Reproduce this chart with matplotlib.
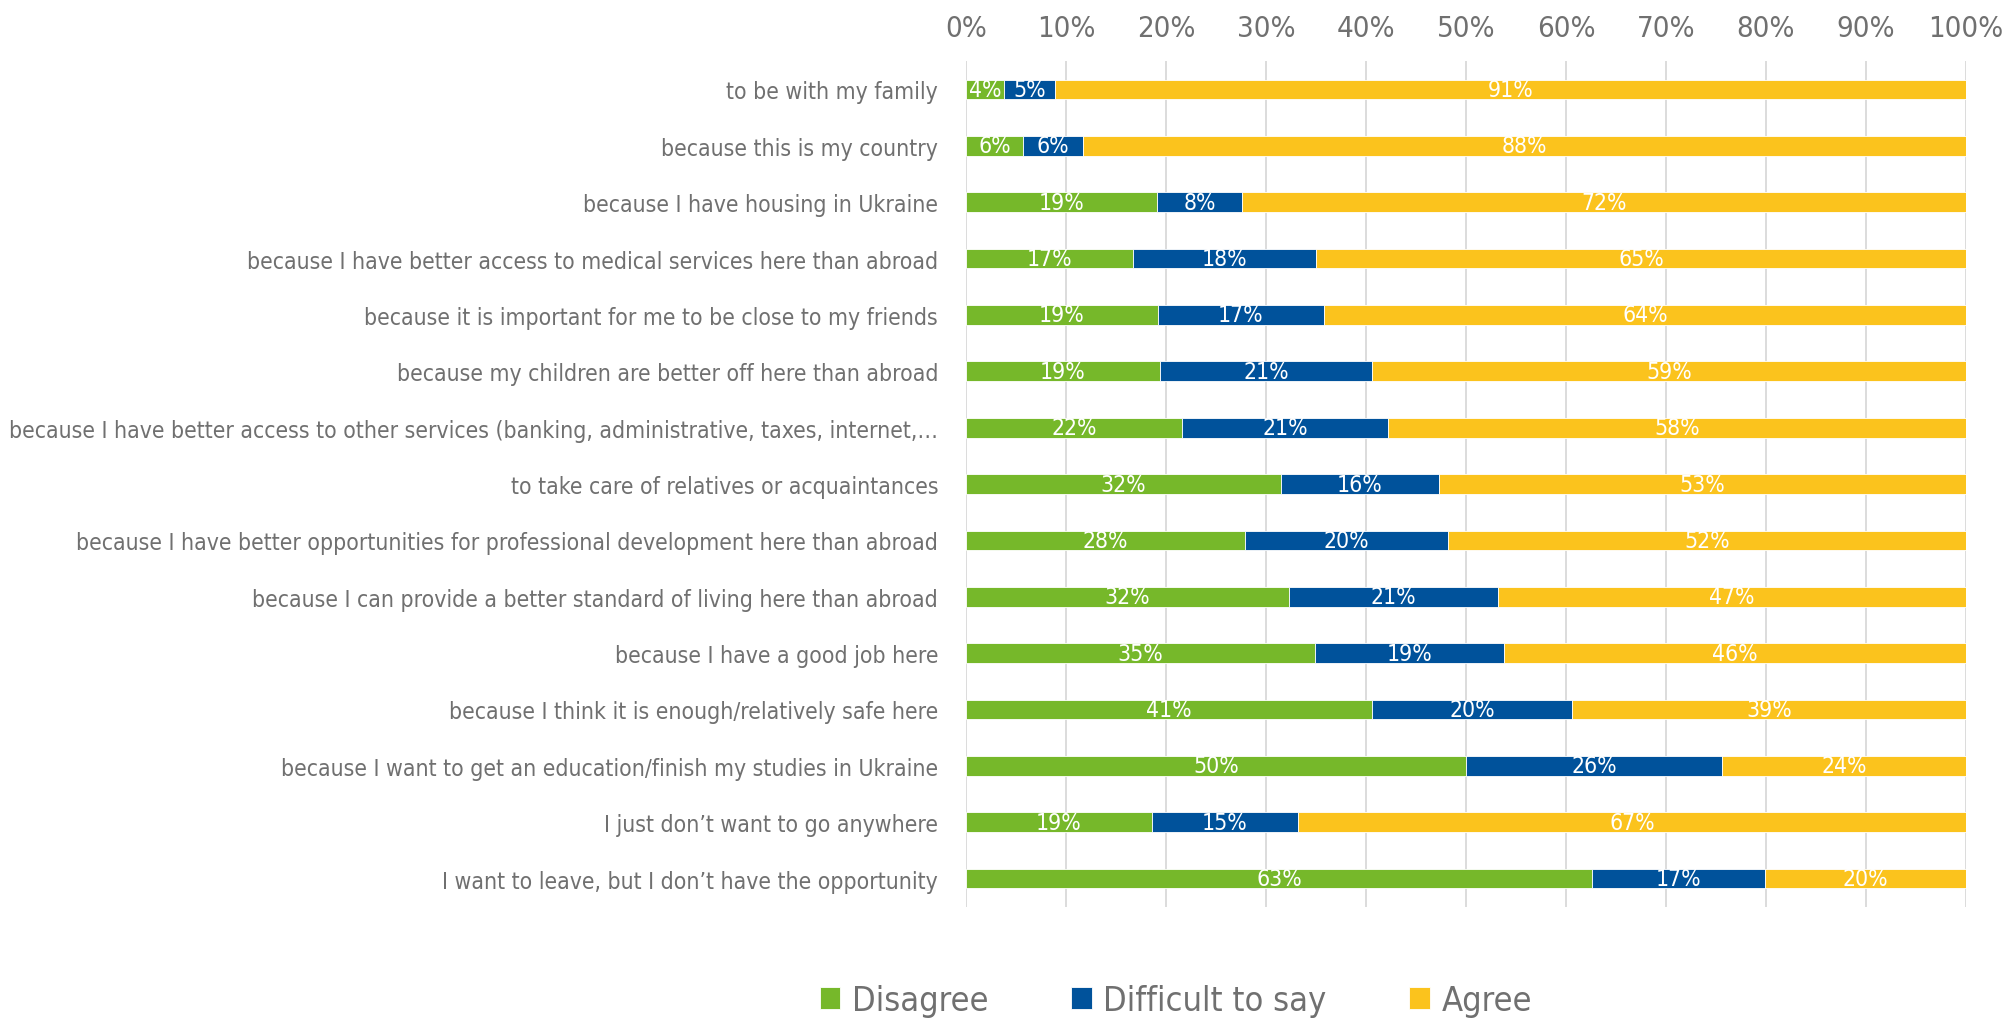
import matplotlib
matplotlib.use("Agg")
import matplotlib.pyplot as plt
from matplotlib import font_manager as fm
import numpy as np

categories = [
    "to be with my family",
    "because this is my country",
    "because I have housing in Ukraine",
    "because I have better access to medical services here than abroad",
    "because it is important for me to be close to my friends",
    "because my children are better off here than abroad",
    "because I have better access to other services (banking, administrative, taxes, internet,\u2026",
    "to take care of relatives or acquaintances",
    "because I have better opportunities for professional development here than abroad",
    "because I can provide a better standard of living here than abroad",
    "because I have a good job here",
    "because I think it is enough/relatively safe here",
    "because I want to get an education/finish my studies in Ukraine",
    "I just don\u2019t want to go anywhere",
    "I want to leave, but I don\u2019t have the opportunity",
]

disagree = [3.8, 5.7, 19.1, 16.7, 19.2, 19.4, 21.6, 31.5, 27.9, 32.3, 34.9, 40.6, 50.0, 18.6, 62.6]
difficult = [5.1, 6.0, 8.5, 18.3, 16.6, 21.2, 20.6, 15.8, 20.3, 20.9, 18.9, 20.0, 25.6, 14.6, 17.3]
agree = [91.1, 88.3, 72.4, 65.0, 64.2, 59.4, 57.8, 52.7, 51.8, 46.8, 46.2, 39.4, 24.4, 66.8, 20.1]

series = [("Disagree", disagree, "#76B82A"),
          ("Difficult to say", difficult, "#00529B"),
          ("Agree", agree, "#FBC31D")]

gray = "#707070"

# narrow font if there is one, else condensed DejaVu, else plain
ttf = fm.fontManager.ttflist
names = {f.name for f in ttf}
narrow = [f for f in ttf if f.name == "DejaVu Sans"
          and f.fname.endswith("DejaVuSansCondensed.ttf")]
if not narrow:
    narrow = [f for f in ttf if f.name == "DejaVu Sans" and "ondensed" in f.fname
              and f.weight in (400, "normal") and f.style == "normal"]
if "Liberation Sans Narrow" in names:
    fp_kw = dict(family="Liberation Sans Narrow")
elif narrow:
    fp_kw = dict(fname=narrow[0].fname)
else:
    fp_kw = dict(family="DejaVu Sans")


def fprop(size):
    return fm.FontProperties(size=size, **fp_kw)


fig = plt.figure(figsize=(20.1, 10.2), dpi=100)
ax = fig.add_axes([0.4806, 0.110, 0.4975, 0.829])

y = np.arange(len(categories))
left = np.zeros(len(categories))
for name, vals, color in series:
    vals = np.array(vals)
    bars = ax.barh(y, vals, left=left, height=0.35, color=color, label=name,
                   edgecolor="white", linewidth=0.6, zorder=3)
    for b, v in zip(bars, vals):
        ax.text(b.get_x() + b.get_width() / 2, b.get_y() + b.get_height() / 2,
                f"{round(v):.0f}%", ha="center", va="center", color="white",
                fontproperties=fprop(16.5), zorder=4)
    left += vals

ax.set_xlim(0, 100)
ax.set_ylim(len(categories) - 0.5, -0.5)
ax.set_yticks(y)
ax.set_yticklabels(categories, color=gray)
ax.set_xticks(np.arange(0, 101, 10))
ax.set_xticklabels([f"{t}%" for t in range(0, 101, 10)], color=gray)
ax.xaxis.tick_top()
ax.tick_params(axis="x", length=0, pad=14)
ax.tick_params(axis="y", length=0, pad=20)
ax.grid(axis="x", color="#d9d9d9", linewidth=1.3, zorder=0)
for s in ax.spines.values():
    s.set_visible(False)

# fit the longest category label to the width it has in the reference
fig.canvas.draw()
r = fig.canvas.get_renderer()
for t in ax.get_yticklabels():
    t.set_fontproperties(fprop(17.5))
fig.canvas.draw()
widest = max(t.get_window_extent(r).width for t in ax.get_yticklabels())
ysize = min(21, 17.5 * 928 / widest)
for t in ax.get_yticklabels():
    t.set_fontproperties(fprop(ysize))
for t in ax.get_xticklabels():
    t.set_fontproperties(fprop(ysize * 1.28))

leg = fig.legend(loc="center", bbox_to_anchor=(0.585, 0.018), ncol=3,
                 frameon=False, prop=fprop(ysize * 1.5),
                 handlelength=0.6, handleheight=0.6, handletextpad=0.35,
                 columnspacing=2.4)
for t in leg.get_texts():
    t.set_color(gray)

fig.savefig("out.png", dpi=100)
